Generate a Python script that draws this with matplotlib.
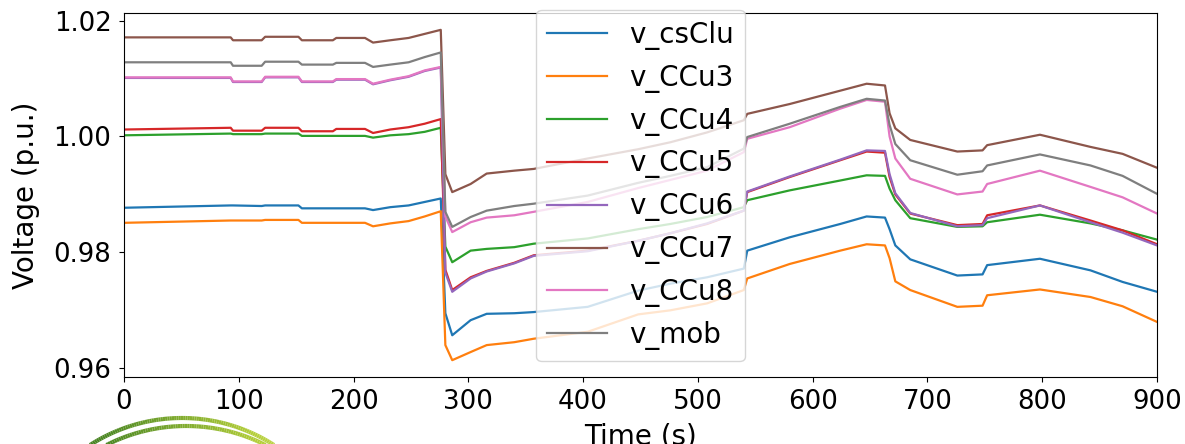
import matplotlib
matplotlib.use("Agg")
import matplotlib.pyplot as plt
import numpy as np
from matplotlib.collections import LineCollection
from matplotlib.colors import LinearSegmentedColormap


# time samples (s)
time = [0, 93, 95, 120, 123, 152, 155, 182, 185, 210, 217, 232, 248, 262, 276,
        280, 286, 302, 316, 340, 357, 404, 448, 476, 508, 540, 543, 580, 624,
        647, 663, 667, 672, 685, 726, 748, 752, 798, 842, 870, 900]

v_csClu = [0.9877, 0.9881, 0.9881, 0.9880, 0.9881, 0.9881, 0.9876, 0.9876, 0.9876, 0.9876,
           0.9873, 0.9878, 0.9881, 0.9887, 0.9893,
           0.9695, 0.9657, 0.9683, 0.9694, 0.9695, 0.9697, 0.9706, 0.9734, 0.9746, 0.9757,
           0.9772, 0.9803, 0.9826, 0.9849, 0.9862, 0.9860, 0.9840, 0.9812, 0.9788, 0.9760,
           0.9762, 0.9778, 0.9789, 0.9769, 0.9749, 0.9732]
v_CCu3 = [0.9851, 0.9855, 0.9855, 0.9855, 0.9856, 0.9856, 0.9851, 0.9851, 0.9851, 0.9851,
          0.9845, 0.9850, 0.9854, 0.9862, 0.9871,
          0.9640, 0.9614, 0.9628, 0.9640, 0.9645, 0.9651, 0.9663, 0.9693, 0.9700, 0.9712,
          0.9735, 0.9755, 0.9780, 0.9803, 0.9814, 0.9812, 0.9790, 0.9750, 0.9735, 0.9706,
          0.9708, 0.9726, 0.9736, 0.9723, 0.9707, 0.9680]
v_CCu4 = [1.0002, 1.0005, 1.0004, 1.0004, 1.0005, 1.0005, 1.0001, 1.0001, 1.0001, 1.0001,
          0.9998, 1.0002, 1.0004, 1.0008, 1.0015,
          0.9810, 0.9783, 0.9803, 0.9806, 0.9809, 0.9815, 0.9824, 0.9840, 0.9849, 0.9861,
          0.9878, 0.9890, 0.9907, 0.9924, 0.9933, 0.9932, 0.9910, 0.9890, 0.9859, 0.9844,
          0.9845, 0.9852, 0.9865, 0.9850, 0.9838, 0.9822]
v_CCu5 = [1.0012, 1.0015, 1.0010, 1.0010, 1.0015, 1.0015, 1.0009, 1.0009, 1.0013, 1.0013,
          1.0006, 1.0012, 1.0016, 1.0022, 1.0030,
          0.9770, 0.9735, 0.9757, 0.9768, 0.9782, 0.9795, 0.9803, 0.9820, 0.9833, 0.9849,
          0.9872, 0.9904, 0.9930, 0.9959, 0.9974, 0.9972, 0.9930, 0.9900, 0.9867, 0.9847,
          0.9849, 0.9864, 0.9881, 0.9855, 0.9838, 0.9814]
v_CCu6 = [1.0101, 1.0101, 1.0094, 1.0094, 1.0102, 1.0102, 1.0094, 1.0094, 1.0098, 1.0098,
          1.0090, 1.0097, 1.0103, 1.0113, 1.0119,
          0.9765, 0.9732, 0.9755, 0.9767, 0.9781, 0.9794, 0.9802, 0.9820, 0.9833, 0.9850,
          0.9872, 0.9905, 0.9931, 0.9960, 0.9976, 0.9975, 0.9935, 0.9902, 0.9868, 0.9845,
          0.9847, 0.9859, 0.9881, 0.9852, 0.9834, 0.9812]
v_CCu7 = [1.0171, 1.0171, 1.0166, 1.0166, 1.0172, 1.0172, 1.0166, 1.0166, 1.0170, 1.0170,
          1.0162, 1.0166, 1.0170, 1.0177, 1.0184,
          0.9935, 0.9904, 0.9918, 0.9936, 0.9941, 0.9944, 0.9962, 0.9978, 0.9990, 1.0007,
          1.0028, 1.0039, 1.0056, 1.0079, 1.0091, 1.0088, 1.0040, 1.0014, 0.9994, 0.9974,
          0.9976, 0.9985, 1.0003, 0.9982, 0.9970, 0.9946]
v_CCu8 = [1.0102, 1.0102, 1.0095, 1.0095, 1.0103, 1.0103, 1.0095, 1.0095, 1.0099, 1.0099,
          1.0091, 1.0098, 1.0104, 1.0114, 1.0120,
          0.9862, 0.9835, 0.9852, 0.9860, 0.9864, 0.9870, 0.9887, 0.9911, 0.9925, 0.9941,
          0.9973, 0.9996, 1.0016, 1.0048, 1.0063, 1.0060, 1.0000, 0.9962, 0.9927, 0.9900,
          0.9905, 0.9918, 0.9941, 0.9913, 0.9895, 0.9867]
v_mob = [1.0128, 1.0128, 1.0122, 1.0122, 1.0129, 1.0129, 1.0124, 1.0124, 1.0127, 1.0127,
         1.0120, 1.0124, 1.0128, 1.0137, 1.0145,
         0.9870, 0.9844, 0.9861, 0.9872, 0.9880, 0.9884, 0.9898, 0.9920, 0.9932, 0.9947,
         0.9979, 0.9999, 1.0022, 1.0051, 1.0065, 1.0062, 1.0020, 0.9987, 0.9959, 0.9934,
         0.9940, 0.9950, 0.9969, 0.9950, 0.9932, 0.9901]

series = [v_csClu, v_CCu3, v_CCu4, v_CCu5, v_CCu6, v_CCu7, v_CCu8, v_mob]
names = ['v_csClu', 'v_CCu3', 'v_CCu4', 'v_CCu5', 'v_CCu6', 'v_CCu7', 'v_CCu8', 'v_mob']


plt.rcParams['font.size'] = 20
fig = plt.figure(figsize=(11.85, 4.44), dpi=100)
ax = fig.add_axes([0.1046, 0.1516, 0.9764 - 0.1046, 0.970 - 0.1516])

for values, name in zip(series, names):
    ax.plot(time, values, linewidth=1.6, label=name)

ax.set_xlim(0, 900)
ax.set_ylim(0.95855, 1.02125)
ax.set_yticks([0.96, 0.98, 1.00, 1.02])
ax.tick_params(labelsize=18.7, pad=5.5)
ax.set_xlabel('Time (s)', labelpad=5)
ax.set_ylabel('Voltage (p.u.)', labelpad=10)
ax.legend(loc='upper center', bbox_to_anchor=(0.5, 1.01), borderaxespad=0,
          handlelength=2.15)

# partial logo arcs peeking in at the bottom left
deco = fig.add_axes([0, 0, 1, 1], zorder=-1)
deco.set_xlim(0, 1185)
deco.set_ylim(444, 0)
deco.axis('off')
cmap = LinearSegmentedColormap.from_list('logo', ['#1f5a17', '#4f8a25', '#b5cf3a', '#e6ee9a'])
for cx, cy, r in [(182, 588, 170), (186, 602, 176)]:
    ang = np.linspace(np.pi * 1.08, np.pi * 1.92, 200)
    xs = cx + r * np.cos(ang)
    ys = cy + r * np.sin(ang)
    pts = np.column_stack([xs, ys]).reshape(-1, 1, 2)
    segs = np.concatenate([pts[:-1], pts[1:]], axis=1)
    lc = LineCollection(segs, cmap=cmap, linewidths=3)
    lc.set_array(np.linspace(0, 1, len(segs)))
    deco.add_collection(lc)

fig.savefig('out.png', dpi=100)
